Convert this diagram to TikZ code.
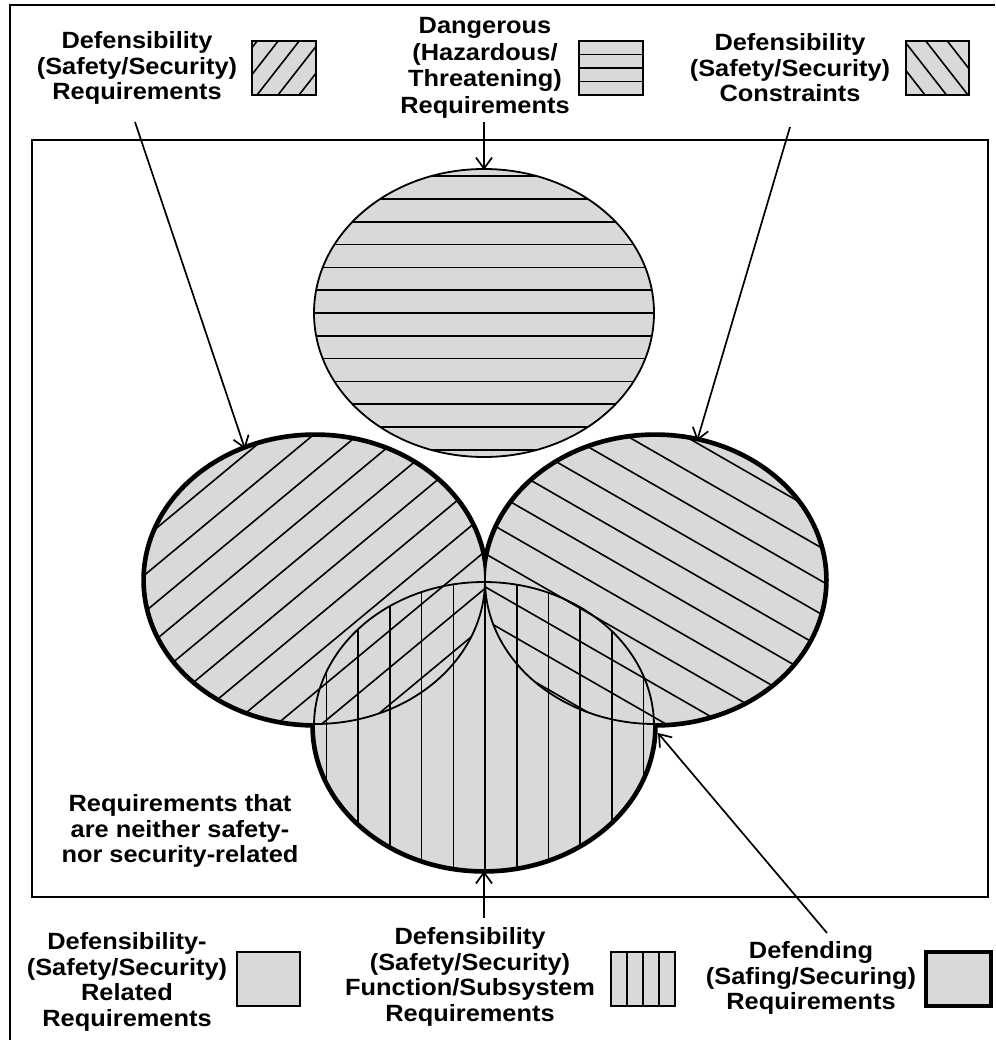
\documentclass[tikz,border=0pt]{standalone}
\usepackage{fontspec}
\setmainfont{Liberation Sans}[FakeStretch=1.08,BoldFeatures={FakeStretch=1.08}]
\usetikzlibrary{arrows.meta}
\definecolor{areagray}{RGB}{217,217,217}
\begin{document}
\begin{tikzpicture}[x=1pt,y=-1pt,
  txt/.style={align=center,font=\fontsize{23.5}{25.5}\selectfont\bfseries,inner sep=0pt},
  rimline/.style={line width=1.8pt},
  hatch/.style={line width=1.6pt},
  pointer/.style={line width=1.7pt,-{Straight Barb[length=11pt,width=16pt]}},
  swatch/.style={fill=areagray,draw,line width=1.8pt}]
\useasboundingbox (0,0) rectangle (995,1040);

% outer frame and the universe of requirements
\draw[rimline] (10,1040) -- (10,5) -- (995,5);
\draw[rimline] (32,140) rectangle (988,897);

% dangerous requirements: horizontal hatching
\fill[areagray] (484,313) ellipse [x radius=170, y radius=144];
\begin{scope}
  \clip (484,313) ellipse [x radius=170, y radius=144];
  \foreach \k in {-6,...,6}
    \draw[hatch] (300,{313+22.8*\k}) -- (670,{313+22.8*\k});
\end{scope}
\draw[rimline] (484,313) ellipse [x radius=170, y radius=144];

% defending requirements: thick outer rim of the union
\foreach \cx/\cy in {315/580, 655/580, 484/726}
  \draw[line width=7.5pt] (\cx,\cy) ellipse [x radius=170, y radius=144];
\foreach \cx/\cy in {315/580, 655/580, 484/726}
  \fill[areagray] (\cx,\cy) ellipse [x radius=170, y radius=144];

% safety/security requirements
\begin{scope}
  \clip (315,580) ellipse [x radius=170, y radius=144];
  \foreach \k in {-1,...,9}
    \draw[hatch] (140,{695+37*\k-0.83*140}) -- (500,{695+37*\k-0.83*500});
\end{scope}
% safety/security constraints
\begin{scope}
  \clip (655,580) ellipse [x radius=170, y radius=144];
  \foreach \k in {-1,...,9}
    \draw[hatch] (480,{75.5+33.2*\k+0.575*480}) -- (830,{75.5+33.2*\k+0.575*830});
\end{scope}
% function/subsystem requirements
\begin{scope}
  \clip (484,726) ellipse [x radius=170, y radius=144];
  \foreach \k in {-6,...,6}
    \draw[hatch] ({485+31.7*\k},575) -- ({485+31.7*\k},875);
\end{scope}
\foreach \cx/\cy in {315/580, 655/580, 484/726}
  \draw[rimline] (\cx,\cy) ellipse [x radius=170, y radius=144];

% legend texts
\node[txt] (tl) at (137,68) {Defensibility\\(Safety/Security)\\Requirements};
\node[txt,font=\fontsize{23.5}{26.7}\selectfont\bfseries] (tm) at (485,68) {Dangerous\\(Hazardous/\\Threatening)\\Requirements};
\node[txt] (tr) at (790,68) {Defensibility\\(Safety/Security)\\Constraints};
\node[txt] (nr) at (180,831) {Requirements that\\are neither safety-\\nor security-related};
\node[txt] (bl) at (127,982) {Defensibility-\\(Safety/Security)\\Related\\Requirements};
\node[txt] (bm) at (470,977) {Defensibility\\(Safety/Security)\\Function/Subsystem\\Requirements};
\node[txt] (br) at (811,978) {Defending\\(Safing/Securing)\\Requirements};

% legend swatches
\draw[swatch] (252,41) rectangle (316,95);
\begin{scope}
  \clip (252,41) rectangle (316,95);
  \foreach \k in {-2,...,3}
    \draw[hatch] ({257+21*\k},95) -- ({299.2+21*\k},41);
\end{scope}
\draw[rimline] (252,41) rectangle (316,95);

\draw[swatch] (579,41) rectangle (643,95);
\foreach \y in {54.5,68,81.5}
  \draw[hatch] (579,\y) -- (643,\y);

\draw[swatch] (906,41) rectangle (969,95);
\begin{scope}
  \clip (906,41) rectangle (969,95);
  \foreach \k in {-2,...,3}
    \draw[hatch] ({925+21.5*\k},95) -- ({882.8+21.5*\k},41);
\end{scope}
\draw[rimline] (906,41) rectangle (969,95);

\draw[swatch] (237,952) rectangle (300,1006);

\draw[swatch] (611,952) rectangle (675,1006);
\foreach \x in {627,643,659}
  \draw[hatch] (\x,952) -- (\x,1006);

\draw[swatch,line width=4.5pt] (926,952) rectangle (991,1006);

% pointers from the legend to the sets
\coordinate (tlfrom) at (135,122);
\coordinate (tlto) at (245,449);
\coordinate (tmfrom) at (484,122);
\coordinate (tmto) at (484,170);
\coordinate (trfrom) at (790,127);
\coordinate (trto) at (697,441);
\coordinate (bmfrom) at (484,918);
\coordinate (bmto) at (484,871);
\coordinate (brfrom) at (827,933);
\coordinate (brto) at (658,733);
\draw[pointer] (tlfrom) -- (tlto);
\draw[pointer] (tmfrom) -- (tmto);
\draw[pointer] (trfrom) -- (trto);
\draw[pointer] (bmfrom) -- (bmto);
\draw[pointer] (brfrom) -- (brto);
\end{tikzpicture}
\end{document}
